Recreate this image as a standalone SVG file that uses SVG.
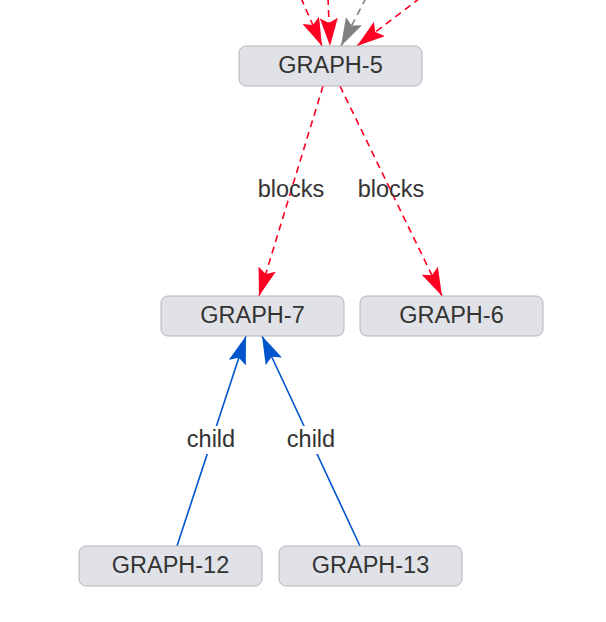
<svg xmlns="http://www.w3.org/2000/svg" width="606" height="622" viewBox="0 0 606 622">
<style>
.node rect{fill:#e1e2e7;stroke:#b4b4bb;stroke-width:1}
.node text{font-family:"Liberation Sans",Arial,sans-serif;font-size:23.5px;fill:#333;text-anchor:middle;dominant-baseline:central}
.lbl{font-family:"Liberation Sans",Arial,sans-serif;font-size:23.5px;fill:#333;text-anchor:middle;dominant-baseline:central}
.red{stroke:#ff0022;stroke-width:1.6;stroke-dasharray:7,5;fill:none}
.gray{stroke:#808080;stroke-width:1.6;stroke-dasharray:7,5;fill:none}
.blue{stroke:#0055cc;stroke-width:1.6;fill:none}
</style>
<defs>
<marker id="ar" viewBox="0 0 28 18" refX="28" refY="9" markerWidth="28" markerHeight="18" markerUnits="userSpaceOnUse" orient="auto"><path d="M0,0 L28,9 L0,18 L5,9 Z" fill="#ff0022"/></marker>
<marker id="ag" viewBox="0 0 28 18" refX="28" refY="9" markerWidth="28" markerHeight="18" markerUnits="userSpaceOnUse" orient="auto"><path d="M0,0 L28,9 L0,18 L5,9 Z" fill="#808080"/></marker>
<marker id="ab" viewBox="0 0 28 18" refX="28" refY="9" markerWidth="28" markerHeight="18" markerUnits="userSpaceOnUse" orient="auto"><path d="M0,0 L28,9 L0,18 L5,9 Z" fill="#0055cc"/></marker>
</defs>
<rect width="606" height="622" fill="#fff"/>
<g id="connectors">
<line class="red" x1="301" y1="-2" x2="322" y2="46" marker-end="url(#ar)"/>
<line class="red" x1="328" y1="-2" x2="330" y2="46" marker-end="url(#ar)"/>
<line class="gray" x1="366" y1="-2" x2="341" y2="46" marker-end="url(#ag)"/>
<line class="red" x1="420" y1="-2" x2="357" y2="46" marker-end="url(#ar)"/>
<line class="red" x1="323" y1="86" x2="259" y2="296" marker-end="url(#ar)"/>
<line class="red" x1="340" y1="86" x2="442" y2="296" marker-end="url(#ar)"/>
<line class="blue" x1="177" y1="546" x2="246" y2="336" marker-end="url(#ab)"/>
<line class="blue" x1="360" y1="546" x2="262" y2="336" marker-end="url(#ab)"/>
<text class="lbl" x="291" y="189">blocks</text>
<text class="lbl" x="391" y="189">blocks</text>
<rect x="185" y="426" width="52" height="28" fill="#fff"/>
<text class="lbl" x="211" y="439">child</text>
<rect x="285" y="426" width="52" height="28" fill="#fff"/>
<text class="lbl" x="311" y="439">child</text>
</g>
<g id="GRAPH-5" class="node"><rect x="239" y="46" width="183" height="40" rx="7"/><text x="330.5" y="64.5">GRAPH-5</text></g>
<g id="GRAPH-7" class="node"><rect x="161" y="296" width="183" height="40" rx="7"/><text x="252.5" y="314.5">GRAPH-7</text></g>
<g id="GRAPH-6" class="node"><rect x="360" y="296" width="183" height="40" rx="7"/><text x="451.5" y="314.5">GRAPH-6</text></g>
<g id="GRAPH-12" class="node"><rect x="79" y="546" width="183" height="40" rx="7"/><text x="170.5" y="564.5">GRAPH-12</text></g>
<g id="GRAPH-13" class="node"><rect x="279" y="546" width="183" height="40" rx="7"/><text x="370.5" y="564.5">GRAPH-13</text></g>
</svg>
